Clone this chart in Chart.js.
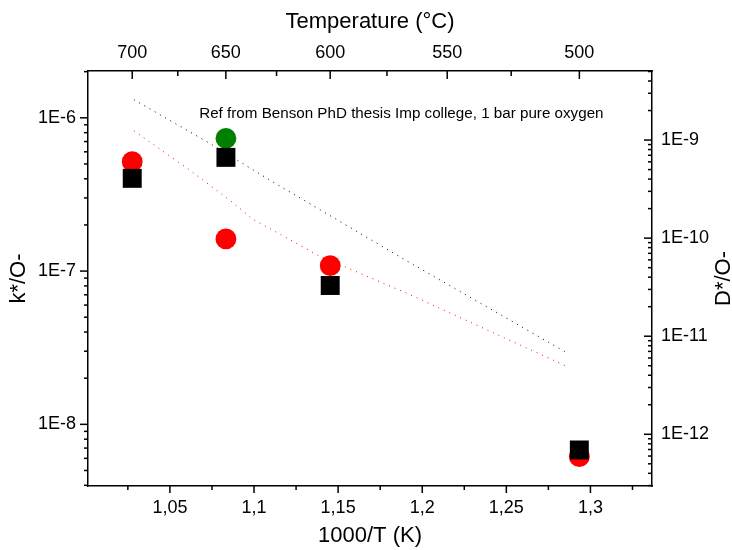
<!DOCTYPE html>
<html>
<head>
<meta charset="utf-8">
<script src="https://cdn.jsdelivr.net/npm/chart.js@4.4.1/dist/chart.umd.min.js"></script>
<style>
  html, body { margin: 0; padding: 0; background: #fff; }
</style>
</head>
<body>
<canvas id="chart" width="732" height="550"></canvas>
<script>
// 1000/T (K) at 700, 650, 600 and 500 °C
const invT = [1.0276, 1.0833, 1.1453, 1.2934];
const kRed = [5.17e-7, 1.62e-7, 1.084e-7, 6.15e-9];      // red circles (left axis)
const dBlack = [4.07e-10, 6.66e-10, 3.29e-11, 6.92e-13]; // black squares (right axis)
const greenX = [1.0833];
const kGreen = [7.34e-7];

// Benson reference curves, dotted
const refKx = [1.0286, 1.0601, 1.0856, 1.0993, 1.1379, 1.1919, 1.2863];
const refK = [8.23e-7, 4.70e-7, 2.90e-7, 2.18e-7, 1.27e-7, 7.08e-8, 2.38e-8];
const refDx = [1.0286, 1.0737, 1.1110, 1.1906, 1.2865];
const refD = [2.58e-9, 9.25e-10, 3.76e-10, 5.89e-11, 6.70e-12];

// axes
const xTicks = [1.05, 1.1, 1.15, 1.2, 1.25, 1.3];
const xTickLabels = ['1,05', '1,1', '1,15', '1,2', '1,25', '1,3'];
const xMinor = [1.025, 1.075, 1.125, 1.175, 1.225, 1.275, 1.325];
const tempTicks = [700, 650, 600, 550, 500];
const tempMinor = [675, 625, 575, 525];
const leftTicks = [1e-8, 1e-7, 1e-6];
const leftTickLabels = ['1E-8', '1E-7', '1E-6'];
const rightTicks = [1e-12, 1e-11, 1e-10, 1e-9];
const rightTickLabels = ['1E-12', '1E-11', '1E-10', '1E-9'];

const FONT = "'Liberation Sans', Arial, sans-serif";
const toInv = t => 1000 / (t + 273.15);
const pts = (xs, ys) => xs.map((x, i) => ({ x: x, y: ys[i] }));

function logMinor(scale) {
    const out = [];
    const lo = Math.floor(Math.log10(scale.min));
    const hi = Math.ceil(Math.log10(scale.max));
    for (let e = lo; e <= hi; e++) {
        for (let m = 2; m <= 9; m++) {
            const v = m * Math.pow(10, e);
            if (v >= scale.min && v <= scale.max) out.push(v);
        }
    }
    return out;
}

function tickMarks(ctx, scale, values, len, edge, dir) {
    values.forEach(v => {
        const p = scale.getPixelForValue(v);
        ctx.beginPath();
        if (scale.isHorizontal()) {
            ctx.moveTo(p, edge);
            ctx.lineTo(p, edge + dir * len);
        } else {
            ctx.moveTo(edge, p);
            ctx.lineTo(edge + dir * len, p);
        }
        ctx.stroke();
    });
}

const decor = {
    id: 'decor',
    afterDraw(chart) {
        const ctx = chart.ctx;
        const a = chart.chartArea;
        const s = chart.scales;
        ctx.save();
        ctx.strokeStyle = '#000';
        ctx.lineWidth = 1.5;
        // bottom: outward
        tickMarks(ctx, s.x, xTicks, 7, a.bottom, 1);
        tickMarks(ctx, s.x, xMinor, 4, a.bottom, 1);
        // top: inward
        tickMarks(ctx, s.xTop, tempTicks.map(toInv), 8, a.top, 1);
        tickMarks(ctx, s.xTop, tempMinor.map(toInv), 5, a.top, 1);
        // left: outward
        tickMarks(ctx, s.y, leftTicks, 8, a.left, -1);
        tickMarks(ctx, s.y, logMinor(s.y), 4, a.left, -1);
        // right: inward
        tickMarks(ctx, s.y2, rightTicks, 8, a.right, -1);
        tickMarks(ctx, s.y2, logMinor(s.y2), 4, a.right, -1);

        // right axis title, reading bottom to top
        ctx.fillStyle = '#000';
        ctx.font = '22px ' + FONT;
        ctx.textAlign = 'center';
        ctx.textBaseline = 'middle';
        ctx.translate(724, (a.top + a.bottom) / 2);
        ctx.rotate(-Math.PI / 2);
        ctx.fillText('D*/O-', 0, 0);
        ctx.restore();

        // note
        ctx.save();
        ctx.fillStyle = '#000';
        ctx.font = '15.2px ' + FONT;
        ctx.textAlign = 'left';
        ctx.textBaseline = 'alphabetic';
        ctx.fillText('Ref from Benson PhD thesis Imp college, 1 bar pure oxygen',
            s.x.getPixelForValue(1.0674), s.y.getPixelForValue(0.99e-6));
        ctx.restore();
    }
};

const tickFont = { family: FONT, size: 18 };
const titleFont = { family: FONT, size: 22 };

Chart.defaults.color = '#000';

new Chart(document.getElementById('chart'), {
    type: 'scatter',
    data: {
        datasets: [
            {
                label: 'D* squares',
                data: pts(invT, dBlack),
                yAxisID: 'y2',
                pointStyle: 'rect',
                pointRadius: 13.4,
                backgroundColor: '#000',
                borderWidth: 0,
                order: 0
            },
            {
                label: 'k* red',
                data: pts(invT, kRed),
                yAxisID: 'y',
                pointStyle: 'circle',
                pointRadius: 10.4,
                backgroundColor: '#ff0000',
                borderWidth: 0,
                order: 1
            },
            {
                label: 'k* green',
                data: pts(greenX, kGreen),
                yAxisID: 'y',
                pointStyle: 'circle',
                pointRadius: 10.4,
                backgroundColor: '#008000',
                borderWidth: 0,
                order: 1
            },
            {
                label: 'Benson D*',
                data: pts(refDx, refD),
                yAxisID: 'y2',
                showLine: true,
                pointRadius: 0,
                borderColor: '#000',
                borderWidth: 1,
                borderDash: [1, 5],
                order: 2
            },
            {
                label: 'Benson k*',
                data: pts(refKx, refK),
                yAxisID: 'y',
                showLine: true,
                pointRadius: 0,
                borderColor: '#ff0000',
                borderWidth: 1,
                borderDash: [1, 5],
                order: 2
            }
        ]
    },
    options: {
        responsive: false,
        animation: false,
        layout: { padding: 0 },
        plugins: {
            legend: { display: false },
            tooltip: { enabled: false }
        },
        scales: {
            x: {
                type: 'linear',
                position: 'bottom',
                min: 1.0013,
                max: 1.3366,
                grid: { display: false, drawTicks: false },
                border: { color: '#000', width: 1.5 },
                afterBuildTicks: s => { s.ticks = xTicks.map(v => ({ value: v })); },
                afterFit: s => { s.height = 64; },
                ticks: {
                    font: tickFont, padding: 11, autoSkip: false, maxRotation: 0,
                    callback: (v, i) => xTickLabels[i]
                },
                title: { display: true, text: '1000/T (K)', font: titleFont, padding: { top: 0, bottom: 1 } }
            },
            xTop: {
                type: 'linear',
                position: 'top',
                min: 1.0013,
                max: 1.3366,
                grid: { display: false, drawTicks: false },
                border: { color: '#000', width: 1.5 },
                afterBuildTicks: s => { s.ticks = tempTicks.map(t => ({ value: toInv(t) })); },
                afterFit: s => { s.height = 71; },
                ticks: {
                    font: tickFont, padding: 7, autoSkip: false, maxRotation: 0,
                    callback: (v, i) => String(tempTicks[i])
                },
                title: { display: true, text: 'Temperature (°C)', font: titleFont, padding: { top: 9, bottom: 0 } }
            },
            y: {
                type: 'logarithmic',
                position: 'left',
                min: 3.96e-9,
                max: 2.02e-6,
                grid: { display: false, drawTicks: false },
                border: { color: '#000', width: 1.5 },
                afterBuildTicks: s => { s.ticks = leftTicks.map(v => ({ value: v })); },
                afterFit: s => { s.width = 88; },
                ticks: {
                    font: tickFont, padding: 12, autoSkip: false,
                    callback: (v, i) => leftTickLabels[i]
                },
                title: { display: true, text: 'k*/O-', font: titleFont, padding: { top: 6, bottom: 0 } }
            },
            y2: {
                type: 'logarithmic',
                position: 'right',
                min: 2.97e-13,
                max: 5.06e-9,
                grid: { display: false, drawTicks: false },
                border: { color: '#000', width: 1.5 },
                afterBuildTicks: s => { s.ticks = rightTicks.map(v => ({ value: v })); },
                afterFit: s => { s.width = 80; },
                ticks: {
                    font: tickFont, padding: 9, autoSkip: false,
                    callback: (v, i) => rightTickLabels[i]
                }
            }
        }
    },
    plugins: [decor]
});
</script>
</body>
</html>
